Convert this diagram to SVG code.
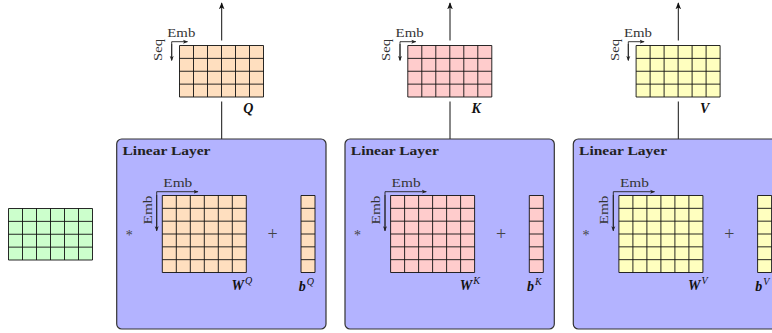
<svg xmlns="http://www.w3.org/2000/svg" xmlns:xlink="http://www.w3.org/1999/xlink" width="772" height="333" viewBox="0 0 772 333">
<style>
.grid{fill:none;stroke:#111;stroke-width:0.9}
.box{fill:#b3b3ff;stroke:#333;stroke-width:1.2}
.conn{fill:none;stroke:#111;stroke-width:1}
.small{fill:none;stroke:#222;stroke-width:0.9}
.lbl{font-family:"Liberation Serif",serif;font-size:12px;fill:#333}
.title{font-family:"Liberation Serif",serif;font-size:13px;font-weight:bold;fill:#222}
.math{font-family:"Liberation Serif",serif;font-size:14px;font-weight:bold;font-style:italic;fill:#111}
.sup{font-size:10px;font-weight:normal}
.op{font-family:"Liberation Serif",serif;fill:#444}
.q{fill:#ffdfbf}.k{fill:#ffcccc}.v{fill:#ffffbf}.g{fill:#ccffcc}
</style>
<defs>
<marker id="ah" viewBox="0 0 10 10" refX="9" refY="5" markerWidth="7" markerHeight="7" markerUnits="userSpaceOnUse" orient="auto"><path d="M0,1 L10,5 L0,9 L2.5,5 z" fill="#111"/></marker>
<marker id="as" viewBox="0 0 10 10" refX="9" refY="5" markerWidth="5" markerHeight="5" markerUnits="userSpaceOnUse" orient="auto"><path d="M0,1 L10,5 L0,9 L2.5,5 z" fill="#222"/></marker>
<path id="g64" class="grid" d="M0,0h84v51.5h-84z M14,0v51.5 M28,0v51.5 M42,0v51.5 M56,0v51.5 M70,0v51.5 M0,12.875h84 M0,25.75h84 M0,38.625h84"/>
<path id="g66" class="grid" d="M0,0h84v77h-84z M14,0v77 M28,0v77 M42,0v77 M56,0v77 M70,0v77 M0,12.833h84 M0,25.667h84 M0,38.5h84 M0,51.333h84 M0,64.167h84"/>
<path id="g16" class="grid" d="M0,0h14v77h-14z M0,12.833h14 M0,25.667h14 M0,38.5h14 M0,51.333h14 M0,64.167h14"/>
</defs>

<g id="connectors">
<line class="conn" x1="221.7" y1="139" x2="221.7" y2="101.5"/>
<line class="conn" x1="221.7" y1="40.5" x2="221.7" y2="3" marker-end="url(#ah)"/>
<line class="conn" x1="450" y1="139" x2="450" y2="101.5"/>
<line class="conn" x1="450" y1="40.5" x2="450" y2="3" marker-end="url(#ah)"/>
<line class="conn" x1="678.3" y1="139" x2="678.3" y2="101.5"/>
<line class="conn" x1="678.3" y1="40.5" x2="678.3" y2="3" marker-end="url(#ah)"/>
</g>

<g id="input">
<rect class="g" x="8.5" y="208.5" width="84" height="51.5"/>
<use xlink:href="#g64" x="8.5" y="208.5"/>
</g>

<g id="linear-q">
<rect class="box" x="116.7" y="139" width="209.3" height="190" rx="5"/>
<text class="title" x="122.5" y="155" textLength="88" lengthAdjust="spacingAndGlyphs">Linear Layer</text>
<text class="op" x="129.3" y="240" font-size="14" text-anchor="middle">*</text>
<rect class="q" x="162.3" y="195.5" width="84" height="77"/>
<use xlink:href="#g66" x="162.3" y="195.5"/>
<path class="small" d="M156.7,230.7 V191.7 H198" marker-end="url(#as)"/>
<line class="small" x1="156.7" y1="195" x2="156.7" y2="230.7" marker-end="url(#as)"/>
<text class="lbl" x="163.3" y="186.5" textLength="29" lengthAdjust="spacingAndGlyphs">Emb</text>
<text class="lbl" transform="translate(151.5,210) rotate(-90)" text-anchor="middle" textLength="29" lengthAdjust="spacingAndGlyphs">Emb</text>
<text class="op" x="272.7" y="240" font-size="18" text-anchor="middle">+</text>
<rect class="q" x="301" y="195.5" width="14" height="77"/>
<use xlink:href="#g16" x="301" y="195.5"/>
<text class="math" x="231.5" y="290">W<tspan class="sup" dx="1" dy="-6">Q</tspan></text>
<text class="math" x="298.7" y="290.5">b<tspan class="sup" dx="1" dy="-6">Q</tspan></text>
</g>

<g id="out-q">
<rect class="q" x="179.5" y="45.5" width="84" height="51.5"/>
<use xlink:href="#g64" x="179.5" y="45.5"/>
<path class="small" d="M171.7,60 V41.7 H187.5" marker-end="url(#as)"/>
<line class="small" x1="171.7" y1="44" x2="171.7" y2="60.5" marker-end="url(#as)"/>
<text class="lbl" x="167.3" y="36.5" textLength="28" lengthAdjust="spacingAndGlyphs">Emb</text>
<text class="lbl" transform="translate(162,50) rotate(-90)" text-anchor="middle" textLength="22" lengthAdjust="spacingAndGlyphs">Seq</text>
<text class="math" x="243.3" y="113">Q</text>
</g>

<g id="linear-k">
<rect class="box" x="345" y="139" width="209.3" height="190" rx="5"/>
<text class="title" x="350.8" y="155" textLength="88" lengthAdjust="spacingAndGlyphs">Linear Layer</text>
<text class="op" x="357.6" y="240" font-size="14" text-anchor="middle">*</text>
<rect class="k" x="390.6" y="195.5" width="84" height="77"/>
<use xlink:href="#g66" x="390.6" y="195.5"/>
<path class="small" d="M385,230.7 V191.7 H426.3" marker-end="url(#as)"/>
<line class="small" x1="385" y1="195" x2="385" y2="230.7" marker-end="url(#as)"/>
<text class="lbl" x="391.6" y="186.5" textLength="29" lengthAdjust="spacingAndGlyphs">Emb</text>
<text class="lbl" transform="translate(379.8,210) rotate(-90)" text-anchor="middle" textLength="29" lengthAdjust="spacingAndGlyphs">Emb</text>
<text class="op" x="501" y="240" font-size="18" text-anchor="middle">+</text>
<rect class="k" x="529.3" y="195.5" width="14" height="77"/>
<use xlink:href="#g16" x="529.3" y="195.5"/>
<text class="math" x="459.8" y="290">W<tspan class="sup" dx="1" dy="-6">K</tspan></text>
<text class="math" x="527" y="290.5">b<tspan class="sup" dx="1" dy="-6">K</tspan></text>
</g>

<g id="out-k">
<rect class="k" x="407.8" y="45.5" width="84" height="51.5"/>
<use xlink:href="#g64" x="407.8" y="45.5"/>
<path class="small" d="M400,60 V41.7 H415.8" marker-end="url(#as)"/>
<line class="small" x1="400" y1="44" x2="400" y2="60.5" marker-end="url(#as)"/>
<text class="lbl" x="395.6" y="36.5" textLength="28" lengthAdjust="spacingAndGlyphs">Emb</text>
<text class="lbl" transform="translate(390.3,50) rotate(-90)" text-anchor="middle" textLength="22" lengthAdjust="spacingAndGlyphs">Seq</text>
<text class="math" x="471.6" y="113">K</text>
</g>

<g id="linear-v">
<rect class="box" x="573.3" y="139" width="209.3" height="190" rx="5"/>
<text class="title" x="579.1" y="155" textLength="88" lengthAdjust="spacingAndGlyphs">Linear Layer</text>
<text class="op" x="585.9" y="240" font-size="14" text-anchor="middle">*</text>
<rect class="v" x="618.9" y="195.5" width="84" height="77"/>
<use xlink:href="#g66" x="618.9" y="195.5"/>
<path class="small" d="M613.3,230.7 V191.7 H654.6" marker-end="url(#as)"/>
<line class="small" x1="613.3" y1="195" x2="613.3" y2="230.7" marker-end="url(#as)"/>
<text class="lbl" x="619.9" y="186.5" textLength="29" lengthAdjust="spacingAndGlyphs">Emb</text>
<text class="lbl" transform="translate(608.1,210) rotate(-90)" text-anchor="middle" textLength="29" lengthAdjust="spacingAndGlyphs">Emb</text>
<text class="op" x="729.3" y="240" font-size="18" text-anchor="middle">+</text>
<rect class="v" x="757.6" y="195.5" width="14" height="77"/>
<use xlink:href="#g16" x="757.6" y="195.5"/>
<text class="math" x="688.1" y="290">W<tspan class="sup" dx="1" dy="-6">V</tspan></text>
<text class="math" x="755.3" y="290.5">b<tspan class="sup" dx="1" dy="-6">V</tspan></text>
</g>

<g id="out-v">
<rect class="v" x="636.1" y="45.5" width="84" height="51.5"/>
<use xlink:href="#g64" x="636.1" y="45.5"/>
<path class="small" d="M628.3,60 V41.7 H644.1" marker-end="url(#as)"/>
<line class="small" x1="628.3" y1="44" x2="628.3" y2="60.5" marker-end="url(#as)"/>
<text class="lbl" x="623.9" y="36.5" textLength="28" lengthAdjust="spacingAndGlyphs">Emb</text>
<text class="lbl" transform="translate(618.6,50) rotate(-90)" text-anchor="middle" textLength="22" lengthAdjust="spacingAndGlyphs">Seq</text>
<text class="math" x="699.9" y="113">V</text>
</g>
</svg>
